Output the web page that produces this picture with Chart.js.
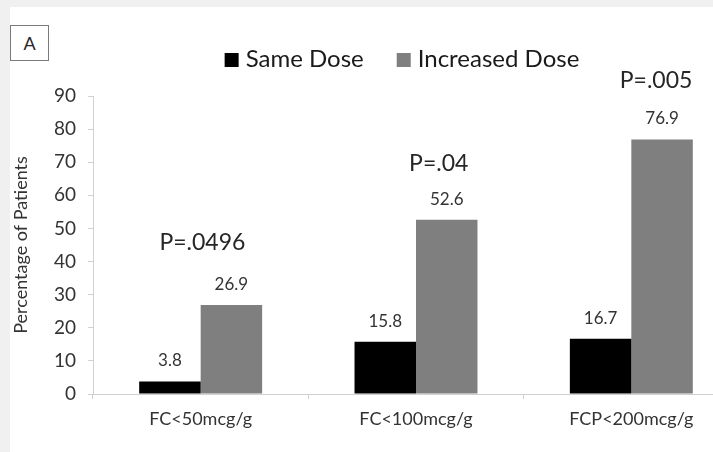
<!DOCTYPE html>
<html>
<head>
<meta charset="utf-8">
<script src="https://cdn.jsdelivr.net/npm/chart.js@4.4.1/dist/chart.umd.min.js"></script>
<style>
  html, body { margin: 0; padding: 0; }
  body { width: 713px; height: 452px; background: #f0f0f0; overflow: hidden; position: relative; }
  #panel { position: absolute; left: 10px; top: 7px; width: 703px; height: 445px; background: #ffffff; overflow: hidden; }
  #wrap { position: absolute; left: 0; top: 0; width: 740px; height: 445px; }
  #tag { position: absolute; left: 10px; top: 25px; width: 37px; height: 34px; border: 1px solid #7a7a7a;
         font-family: Lato, sans-serif; font-size: 18px; color: #262626; display: flex; align-items: center;
         justify-content: center; box-sizing: content-box; background: #fff; }
</style>
</head>
<body>
<div id="panel">
  <div id="wrap"><canvas id="chart"></canvas></div>
</div>
<div id="tag">A</div>
<script>
// Fecal calprotectin groups and share of patients per dosing arm
const categories = ['FC<50mcg/g', 'FC<100mcg/g', 'FCP<200mcg/g'];
const sameDose = [3.8, 15.8, 16.7];
const increasedDose = [26.9, 52.6, 76.9];
const pValues = ['P=.0496', 'P=.04', 'P=.005'];
const yTicks = [0, 10, 20, 30, 40, 50, 60, 70, 80, 90];
const seriesNames = ['Same Dose', 'Increased Dose'];

const FONT = 'Lato, "Open Sans", sans-serif';
const seriesColors = ['#000000', '#7f7f7f'];

// p-value placement relative to the top of each grey bar (pixels)
const pShiftX = [-29, -8, -6];
const pShiftY = [-55, -49, -51];

const annotate = {
  id: 'annotate',
  afterDatasetsDraw(chart) {
    const ctx = chart.ctx;
    ctx.save();
    // values above each bar
    ctx.font = '17px ' + FONT;
    ctx.fillStyle = '#333333';
    ctx.textAlign = 'center';
    ctx.textBaseline = 'alphabetic';
    chart.data.datasets.forEach((ds, di) => {
      chart.getDatasetMeta(di).data.forEach((bar, i) => {
        ctx.fillText(ds.data[i].toFixed(1), bar.x, bar.y - 15);
      });
    });
    // significance labels
    ctx.font = '23px ' + FONT;
    ctx.fillStyle = '#262626';
    const grey = chart.getDatasetMeta(1).data;
    pValues.forEach((p, i) => {
      ctx.fillText(p, grey[i].x + pShiftX[i], grey[i].y + pShiftY[i]);
    });
    ctx.restore();
  },
  afterDraw(chart) {
    // legend row
    const ctx = chart.ctx;
    ctx.save();
    ctx.font = '24px ' + FONT;
    ctx.textBaseline = 'alphabetic';
    ctx.textAlign = 'left';
    const box = 14, gap = 7, spacing = 33;
    const widths = seriesNames.map(n => ctx.measureText(n).width);
    const total = widths.reduce((a, w) => a + box + gap + w, 0) + spacing;
    let x = 392 - total / 2;
    const base = 60;
    seriesNames.forEach((name, i) => {
      ctx.fillStyle = seriesColors[i];
      ctx.fillRect(x, base - box, box, box);
      ctx.fillStyle = '#1a1a1a';
      ctx.fillText(name, x + box + gap, base);
      x += box + gap + widths[i] + spacing;
    });
    ctx.restore();
  }
};

const ctx = document.getElementById('chart');
new Chart(ctx, {
  type: 'bar',
  data: {
    labels: categories,
    datasets: [
      { label: seriesNames[0], data: sameDose, backgroundColor: seriesColors[0] },
      { label: seriesNames[1], data: increasedDose, backgroundColor: seriesColors[1] }
    ]
  },
  options: {
    responsive: true,
    maintainAspectRatio: false,
    animation: false,
    events: [],
    layout: { padding: { top: 89, right: 11, bottom: 0, left: 0 } },
    datasets: { bar: { categoryPercentage: 0.571, barPercentage: 1.0 } },
    plugins: { legend: { display: false }, tooltip: { enabled: false } },
    scales: {
      x: {
        grid: { drawOnChartArea: false, color: '#d0d0d0', tickLength: 5, offset: true },
        border: { color: '#d0d0d0', width: 1 },
        ticks: { color: '#333333', font: { family: FONT, size: 18 }, padding: 9 },
        afterFit(scale) { scale.height = 58; }
      },
      y: {
        min: 0, max: 90,
        afterBuildTicks(scale) { scale.ticks = yTicks.map(v => ({ value: v })); },
        grid: { drawOnChartArea: false, color: '#d0d0d0', tickLength: 5 },
        border: { color: '#d0d0d0', width: 1 },
        ticks: { color: '#333333', font: { family: FONT, size: 19 }, padding: 12 },
        title: { display: true, text: 'Percentage of Patients', color: '#333333',
                 font: { family: FONT, size: 18 }, padding: 0 },
        afterFit(scale) { scale.width = 83; }
      }
    }
  },
  plugins: [annotate]
});
</script>
</body>
</html>
